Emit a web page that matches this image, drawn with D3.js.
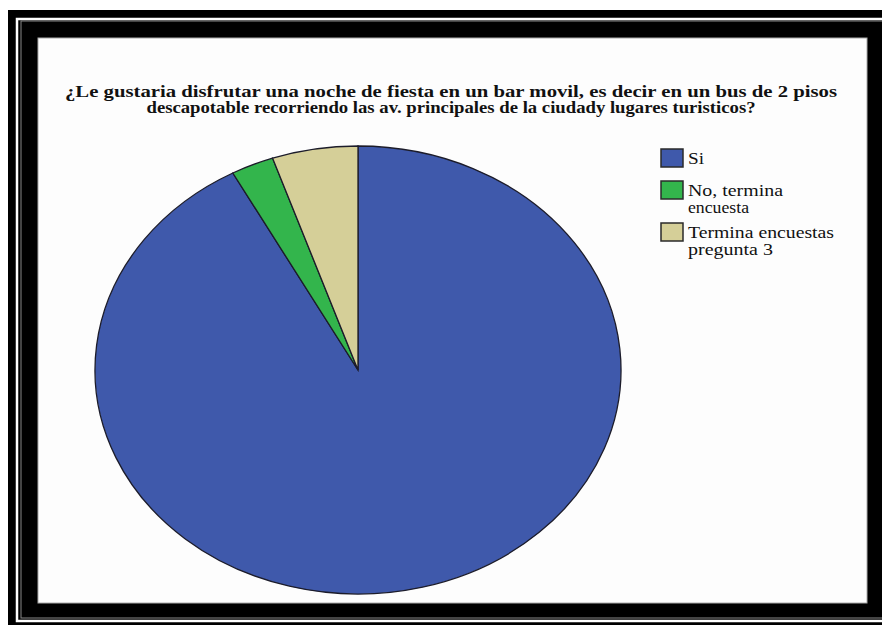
<!DOCTYPE html>
<html>
<head>
<meta charset="utf-8">
<script src="https://cdn.jsdelivr.net/npm/d3@7"></script>
<style>
  html, body { margin: 0; padding: 0; background: #fff; }
  svg { display: block; }
</style>
</head>
<body>
<div id="chart"></div>
<script>
// Survey answers (counts)
const categories = ["Si", "No, termina encuesta", "Termina encuestas pregunta 3"];
const values = [35, 1, 2];
const legendLines = [["Si"], ["No, termina", "encuesta"], ["Termina encuestas", "pregunta 3"]];
const colors = ["#3f59ab", "#33b54c", "#d5cf98"];
const titleLines = [
  "¿Le gustaria disfrutar una noche de fiesta en un bar movil, es decir en un bus de 2 pisos",
  "descapotable recorriendo las av. principales de la ciudady lugares turisticos?"
];

const W = 882, H = 625;
const serif = "'Liberation Serif', 'DejaVu Serif', 'Times New Roman', serif";
const svg = d3.select("#chart").append("svg").attr("width", W).attr("height", H);

// Decorative double black frame
svg.append("rect").attr("x", 8).attr("y", 10).attr("width", 900).attr("height", 640).attr("fill", "#000");
svg.append("rect").attr("x", 17).attr("y", 19).attr("width", 900).attr("height", 602)
  .attr("fill", "none").attr("stroke", "#fff").attr("stroke-width", 2.5);
svg.append("rect").attr("x", 21).attr("y", 21).attr("width", 900).attr("height", 597)
  .attr("fill", "#000").attr("stroke", "#888").attr("stroke-width", 1);
svg.append("rect").attr("x", 38).attr("y", 38).attr("width", 829).attr("height", 565)
  .attr("fill", "#fdfdfd").attr("stroke", "#aaa").attr("stroke-width", 1);

// Title, two centred lines in a wide bold serif
const titleWidths = [772, 609];
titleLines.forEach((t, i) => {
  svg.append("text")
    .attr("x", 451).attr("y", 97 + i * 16)
    .attr("text-anchor", "middle")
    .attr("font-family", serif)
    .attr("font-weight", "bold")
    .attr("font-size", 16)
    .attr("fill", "#111")
    .attr("textLength", titleWidths[i])
    .attr("lengthAdjust", "spacingAndGlyphs")
    .text(t);
});

// Elliptical pie: circle of radius ry stretched horizontally
const cx = 358, cy = 370, rx = 263, ry = 224;
const pie = d3.pie().sort(null).value(d => d)(values);
const arc = d3.arc().innerRadius(0).outerRadius(ry);
const g = svg.append("g").attr("transform", `translate(${cx},${cy}) scale(${rx / ry},1)`);
g.selectAll("path").data(pie).join("path")
  .attr("d", arc)
  .attr("fill", (d, i) => colors[i])
  .attr("stroke", "#1c1c2a")
  .attr("stroke-width", 1.3)
  .attr("vector-effect", "non-scaling-stroke");

// Legend
const legendY = [149, 181, 223];
const legendWidths = [[16], [95, 61], [146, 85]];
const lg = svg.append("g")
  .attr("font-family", serif)
  .attr("font-size", 16)
  .attr("fill", "#111");
categories.forEach((c, i) => {
  lg.append("rect")
    .attr("x", 661).attr("y", legendY[i])
    .attr("width", 22).attr("height", 18)
    .attr("fill", colors[i]).attr("stroke", "#2a2a2a").attr("stroke-width", 1.5);
  legendLines[i].forEach((t, j) => {
    lg.append("text")
      .attr("x", 688).attr("y", legendY[i] + 15 + j * 17)
      .attr("textLength", legendWidths[i][j])
      .attr("lengthAdjust", "spacingAndGlyphs")
      .text(t);
  });
});
</script>
</body>
</html>
